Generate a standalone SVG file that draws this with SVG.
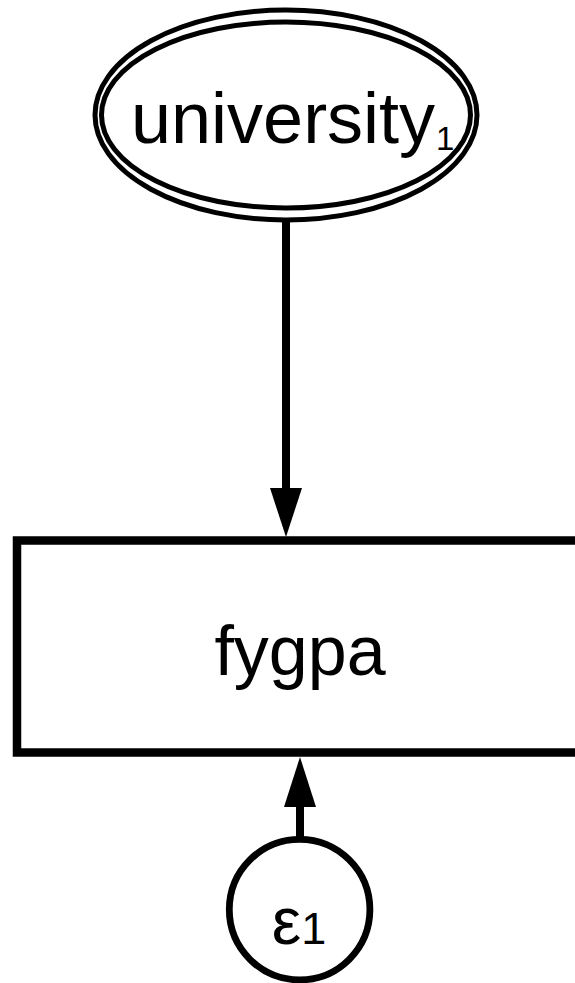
<svg xmlns="http://www.w3.org/2000/svg" width="575" height="983" viewBox="0 0 575 983">
  <style>
    .outline { fill: none; stroke: #000; }
    .label { font-family: "Liberation Sans", Arial, sans-serif; fill: #000; }
    .edge { stroke: #000; stroke-width: 8; fill: none; }
    .head { fill: #000; stroke: none; }
  </style>
  <rect x="0" y="0" width="575" height="983" fill="#fff"/>

  <!-- latent variable: double ellipse -->
  <g id="node-university">
    <ellipse class="outline" cx="286" cy="115" rx="191" ry="105" stroke-width="5"/>
    <ellipse class="outline" cx="286" cy="115" rx="184.5" ry="93" stroke-width="5"/>
    <text class="label" x="131" y="143" font-size="72">university</text>
    <text class="label" x="436" y="150" font-size="33">1</text>
  </g>

  <!-- observed variable -->
  <g id="node-fygpa">
    <rect class="outline" x="17" y="540.5" width="566" height="212" stroke-width="8.5"/>
    <text class="label" x="300" y="675" font-size="70" text-anchor="middle">fygpa</text>
  </g>

  <!-- error term -->
  <g id="node-e1">
    <circle class="outline" cx="299.6" cy="909.6" r="70.3" stroke-width="6.8"/>
    <text class="label" x="299" y="944" text-anchor="middle"><tspan font-size="66">ε</tspan><tspan font-size="45">1</tspan></text>
  </g>

  <!-- paths -->
  <g id="connectors">
    <line class="edge" x1="286" y1="220" x2="286" y2="492"/>
    <polygon class="head" points="286,537 270,488 302,488"/>
    <line class="edge" x1="300" y1="840" x2="300" y2="803"/>
    <polygon class="head" points="300,757 284,807 316,807"/>
  </g>
</svg>
